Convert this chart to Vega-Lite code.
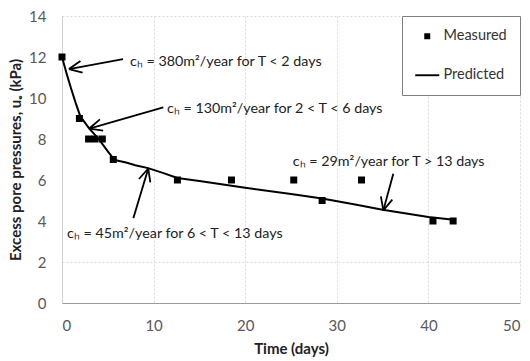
{
  "$schema": "https://vega.github.io/schema/vega-lite/v6.json",
  "width": 458,
  "height": 287,
  "autosize": {"type": "none"},
  "padding": {"left": 62, "top": 16, "right": 10, "bottom": 58},
  "background": "white",
  "config": {
    "font": "Lato",
    "view": {"stroke": null},
    "axis": {
      "labelFont": "Lato",
      "labelFontSize": 15,
      "labelColor": "#595959",
      "titleFont": "Lato",
      "titleFontSize": 15,
      "titleFontWeight": "bold",
      "titleColor": "#222222",
      "ticks": false,
      "gridDash": [2, 2],
      "gridWidth": 1
    }
  },
  "datasets": {
    "measured": [
      {"t": 0, "u": 12, "series": "Measured"},
      {"t": 1.9, "u": 9, "series": "Measured"},
      {"t": 2.9, "u": 8, "series": "Measured"},
      {"t": 3.6, "u": 8, "series": "Measured"},
      {"t": 4.4, "u": 8, "series": "Measured"},
      {"t": 5.6, "u": 7, "series": "Measured"},
      {"t": 12.6, "u": 6, "series": "Measured"},
      {"t": 18.5, "u": 6, "series": "Measured"},
      {"t": 25.3, "u": 6, "series": "Measured"},
      {"t": 28.4, "u": 5, "series": "Measured"},
      {"t": 32.7, "u": 6, "series": "Measured"},
      {"t": 40.5, "u": 4, "series": "Measured"},
      {"t": 42.7, "u": 4, "series": "Measured"}
    ],
    "predicted": [
      {"t": 0, "u": 12},
      {"t": 0.5, "u": 11.2},
      {"t": 1, "u": 10.45},
      {"t": 1.5, "u": 9.75},
      {"t": 2, "u": 9.1},
      {"t": 2.5, "u": 8.8},
      {"t": 3, "u": 8.5},
      {"t": 3.5, "u": 8.25},
      {"t": 4, "u": 8.0},
      {"t": 4.5, "u": 7.7},
      {"t": 5, "u": 7.4},
      {"t": 5.6, "u": 7.05},
      {"t": 6, "u": 6.95},
      {"t": 7, "u": 6.85},
      {"t": 8, "u": 6.72},
      {"t": 9.4, "u": 6.58},
      {"t": 11, "u": 6.35},
      {"t": 12.6, "u": 6.1},
      {"t": 15, "u": 5.95},
      {"t": 20, "u": 5.62},
      {"t": 25, "u": 5.32},
      {"t": 28.4, "u": 5.1},
      {"t": 32, "u": 4.8},
      {"t": 35, "u": 4.55},
      {"t": 40, "u": 4.2},
      {"t": 43, "u": 4.05}
    ],
    "arrows": [
      {"x1": 6.66, "y1": 11.9, "x2": 0.76, "y2": 11.41},
      {"x1": 0.76, "y1": 11.41, "x2": 2.25, "y2": 11.24},
      {"x1": 0.76, "y1": 11.41, "x2": 2.01, "y2": 11.81},
      {"x1": 11.06, "y1": 9.54, "x2": 2.98, "y2": 8.51},
      {"x1": 2.98, "y1": 8.51, "x2": 4.49, "y2": 8.41},
      {"x1": 2.98, "y1": 8.51, "x2": 4.14, "y2": 8.96},
      {"x1": 7.79, "y1": 4.14, "x2": 9.42, "y2": 6.56},
      {"x1": 9.42, "y1": 6.56, "x2": 8.40, "y2": 6.05},
      {"x1": 9.42, "y1": 6.56, "x2": 9.64, "y2": 5.88},
      {"x1": 36.17, "y1": 6.31, "x2": 35.08, "y2": 4.52},
      {"x1": 35.08, "y1": 4.52, "x2": 36.06, "y2": 5.04},
      {"x1": 35.08, "y1": 4.52, "x2": 34.81, "y2": 5.20}
    ],
    "notes": [
      {"x": 7.42, "y": 11.75, "label": "cₕ = 380m²/year for T < 2 days"},
      {"x": 11.46, "y": 9.46, "label": "cₕ = 130m²/year for 2 < T < 6 days"},
      {"x": 0.55, "y": 3.35, "label": "cₕ = 45m²/year for 6 < T < 13 days"},
      {"x": 25.2, "y": 6.87, "label": "cₕ = 29m²/year for T > 13 days"}
    ]
  },
  "layer": [
    {
      "data": {"name": "predicted"},
      "mark": {"type": "line", "color": "black", "strokeWidth": 2},
      "encoding": {
        "x": {
          "field": "t",
          "type": "quantitative",
          "scale": {"domain": [0, 50], "nice": false},
          "axis": {
            "title": "Time (days)",
            "values": [0, 10, 20, 30, 40, 50],
            "domainColor": "#999999",
            "labelPadding": 15,
            "titlePadding": 8,
            "gridColor": "#d9d9d9"
          }
        },
        "y": {
          "field": "u",
          "type": "quantitative",
          "scale": {"domain": [0, 14], "nice": false},
          "axis": {
            "title": "Excess pore pressures, uₑ (kPa)",
            "values": [0, 2, 4, 6, 8, 10, 12, 14],
            "domainColor": "#d0d0d0",
            "labelPadding": 16,
            "titlePadding": 5,
            "gridColor": {
              "condition": {"test": "datum.value == 2 || datum.value == 14", "value": "#d9d9d9"},
              "value": "transparent"
            }
          }
        }
      }
    },
    {
      "data": {"name": "arrows"},
      "mark": {"type": "rule", "color": "black", "strokeWidth": 1.8},
      "encoding": {
        "x": {"field": "x1", "type": "quantitative"},
        "y": {"field": "y1", "type": "quantitative"},
        "x2": {"field": "x2"},
        "y2": {"field": "y2"}
      }
    },
    {
      "data": {"name": "measured"},
      "mark": {"type": "point", "filled": true, "opacity": 1, "size": 49, "color": "black"},
      "encoding": {
        "x": {"field": "t", "type": "quantitative"},
        "y": {"field": "u", "type": "quantitative"},
        "shape": {
          "field": "series",
          "type": "nominal",
          "scale": {
            "domain": ["Measured", "Predicted"],
            "range": ["M-1,-1H1V1H-1Z", "M-4,-0.32H4V0.32H-4Z"]
          },
          "legend": {
            "title": null,
            "orient": "top-right",
            "offset": 0,
            "padding": 13,
            "rowPadding": 24,
            "symbolSize": 36,
            "symbolOffset": 5,
            "labelOffset": 9,
            "labelFont": "Lato",
            "labelFontSize": 14.5,
            "labelColor": "#333333",
            "strokeColor": "#7f7f7f",
            "fillColor": "white",
            "encode": {
              "symbols": {
                "update": {
                  "fill": {"value": "black"},
                  "opacity": {"value": 1}
                }
              }
            }
          }
        }
      }
    },
    {
      "data": {"name": "notes"},
      "mark": {"type": "text", "align": "left", "baseline": "middle", "fontSize": 14.3, "color": "#222222", "font": "Lato"},
      "encoding": {
        "x": {"field": "x", "type": "quantitative"},
        "y": {"field": "y", "type": "quantitative"},
        "text": {"field": "label"}
      }
    }
  ]
}
